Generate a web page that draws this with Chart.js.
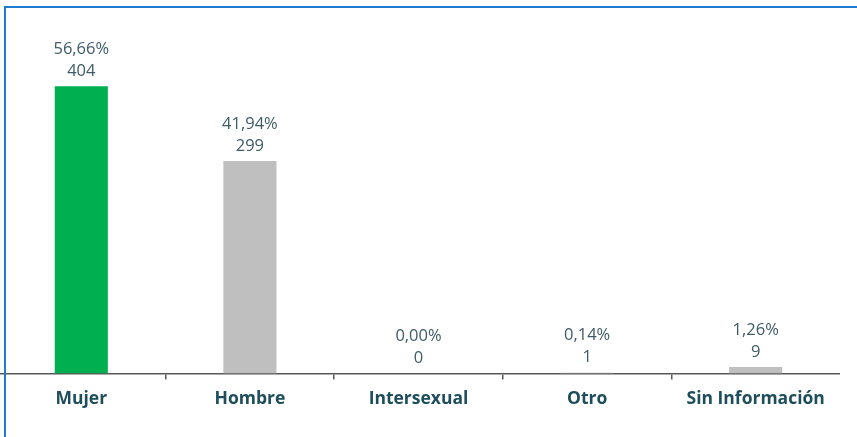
<!DOCTYPE html>
<html>
<head>
<meta charset="utf-8">
<script src="https://cdn.jsdelivr.net/npm/chart.js@4"></script>
<style>
  html, body { margin: 0; padding: 0; background: #fff; overflow: hidden; }
  body { width: 857px; height: 437px; position: relative; }
  #wrap { position: absolute; left: -3px; top: 0; width: 843px; height: 437px; }
  #frame { position: absolute; left: 4px; top: 6px; right: -10px; bottom: -10px;
           border-top: 2px solid #1f7ad1; border-left: 2px solid #1f7ad1; pointer-events: none; }
</style>
</head>
<body>
<div id="wrap"><canvas id="c"></canvas></div>
<div id="frame"></div>
<script>
const categories = ["Mujer", "Hombre", "Intersexual", "Otro", "Sin Información"];
const counts = [404, 299, 0, 1, 9];
const percents = ["56,66%", "41,94%", "0,00%", "0,14%", "1,26%"];
const barColors = ["#00b050", "#bfbfbf", "#bfbfbf", "#bfbfbf", "#bfbfbf"];

const labelPlugin = {
  id: 'valLabels',
  afterDatasetsDraw(chart) {
    const ctx = chart.ctx;
    const meta = chart.getDatasetMeta(0);
    ctx.save();
    ctx.fillStyle = '#3e5b66';
    ctx.font = '16.5px "Open Sans"';
    ctx.textAlign = 'center';
    ctx.textBaseline = 'middle';
    meta.data.forEach((bar, i) => {
      ctx.fillText(String(counts[i]), bar.x, bar.y - 15);
      ctx.fillText(percents[i], bar.x, bar.y - 37);
    });
    ctx.restore();
  }
};

new Chart(document.getElementById('c'), {
  type: 'bar',
  data: {
    labels: categories,
    datasets: [{
      data: counts,
      backgroundColor: barColors,
      borderWidth: 0,
      barPercentage: 0.45,
      categoryPercentage: 0.7
    }]
  },
  options: {
    responsive: true,
    maintainAspectRatio: false,
    animation: false,
    events: [],
    layout: { padding: { top: 18, left: 0, right: 0, bottom: 0 } },
    plugins: { legend: { display: false }, tooltip: { enabled: false } },
    scales: {
      y: { display: false, min: 0, max: 500 },
      x: {
        afterFit(scale) { scale.height = 63.5; },
        border: { display: true, color: '#595959', width: 1.5 },
        grid: {
          offset: true,
          drawOnChartArea: false,
          drawTicks: true,
          tickLength: 6,
          lineWidth: 1.5,
          color: (c) => (c.type === 'tick' && c.index > 0) ? '#595959' : 'rgba(0,0,0,0)'
        },
        ticks: {
          color: '#1e4d5c',
          font: { family: '"Open Sans"', size: 17.5, weight: 'bold' },
          padding: 9,
          maxRotation: 0,
          autoSkip: false
        }
      }
    }
  },
  plugins: [labelPlugin]
});
</script>
</body>
</html>
